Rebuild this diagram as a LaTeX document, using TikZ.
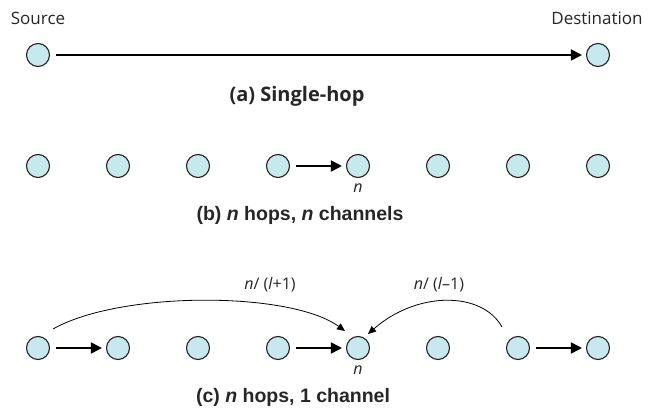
\documentclass[tikz,border=0pt]{standalone}
\usepackage{fontspec}
\setmainfont{Open Sans}
\newfontfamily\capfont{Liberation Sans}
\usetikzlibrary{arrows.meta,calc}
\definecolor{nodefill}{HTML}{C8E8F0}
\definecolor{nodeline}{HTML}{222222}
\begin{document}
\begin{tikzpicture}[x=1pt,y=1pt,
  hopnode/.style={circle,draw=nodeline,fill=nodefill,line width=1.1pt,minimum size=23pt,inner sep=0pt},
  hoparrow/.style={line width=1.8pt,-{Triangle[length=11pt,width=11pt]},shorten <=6pt,shorten >=4pt},
  curvearrow/.style={line width=0.8pt,-{Triangle[length=8pt,width=7pt]}},
  lbl/.style={font=\fontsize{17}{19}\selectfont,text=black!85,inner sep=0pt},
  caption/.style={font=\capfont\bfseries\fontsize{19.5}{21}\selectfont,text=black!85,inner sep=0pt},
  captiona/.style={font=\bfseries\fontsize{20}{22}\selectfont,text=black!85,inner sep=0pt}]
\useasboundingbox (0,0) rectangle (653,415);
% (a)
\node[lbl] (src) at (38,397) {Source};
\node[lbl] (dst) at (597,397) {Destination};
\node[hopnode] (a1) at (38,360) {};
\node[hopnode] (a2) at (598,360) {};
\draw[hoparrow] (a1) -- (a2);
\node[captiona] (capa) at (297,319) {(a) Single-hop};
% (b)
\foreach \i/\x in {1/38,2/118,3/198,4/278,5/358,6/438,7/518,8/598}{
  \node[hopnode] (b\i) at (\x,249) {};
  \node[hopnode] (c\i) at (\x,67) {};
}
\draw[hoparrow] (b4) -- (b5);
\node[lbl,font=\itshape\fontsize{16}{18}\selectfont] (bn) at (358,227) {n};
\node[caption] (capb) at (300,200) {(b) \textit{n} hops, \textit{n} channels};
% (c)
\draw[hoparrow] (c1) -- (c2);
\draw[hoparrow] (c4) -- (c5);
\draw[hoparrow] (c7) -- (c8);
\draw[curvearrow] ($(c1)+(15,19)$) .. controls (120,124) and (290,124) .. ($(c5)+(-13,17)$);
\draw[curvearrow] ($(c7)+(-16,21)$) .. controls (482,124) and (417,124) .. ($(c5)+(10,14)$);
\node[lbl,font=\fontsize{16}{18}\selectfont] (l1) at (270,130) {\textit{n}/ (\textit{l}+1)};
\node[lbl,font=\fontsize{16}{18}\selectfont] (l2) at (439,130) {\textit{n}/ (\textit{l}–1)};
\node[lbl,font=\itshape\fontsize{16}{18}\selectfont] (cn) at (358,45) {n};
\node[caption] (capc) at (293,18) {(c) \textit{n} hops, 1 channel};
\end{tikzpicture}
\end{document}
